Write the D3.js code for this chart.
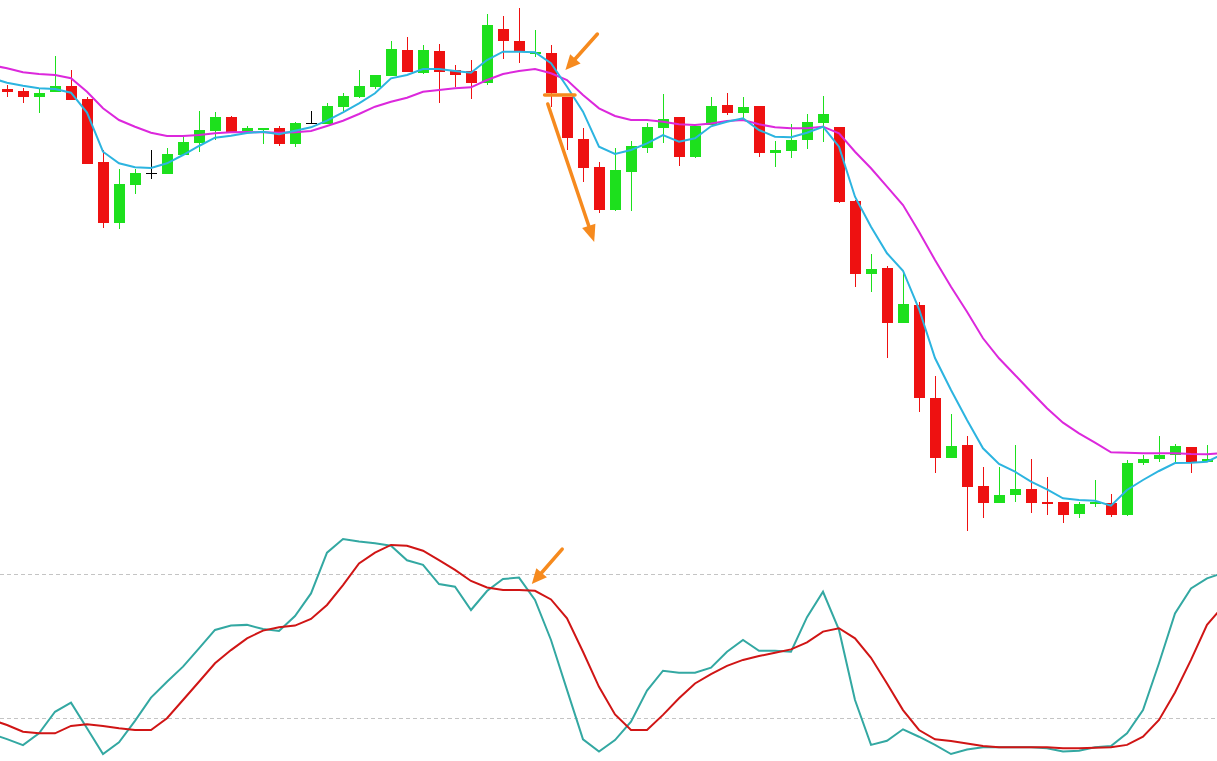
<!DOCTYPE html>
<html>
<head>
<meta charset="utf-8">
<script src="https://cdn.jsdelivr.net/npm/d3@7"></script>
<style>
  html, body { margin: 0; padding: 0; background: #ffffff; }
  svg { display: block; }
</style>
</head>
<body>
<svg id="chart" width="1217" height="761"></svg>
<script>
// ---------- DATA ----------
// bar index 0..75
const opens  = [451,449,443,448,454,441,378,317,355,367,366,385,397,409,423,409,410,412,396,417,416,433,443,453,464,490,467,489,470,469,457,511,499,486,487,443,401,373,330,368,392,412,423,383,415,435,427,434,387,389,400,417,413,339,266,272,217,235,142,82,95,54,37,45,51,38,38,26,36,37,25,77,81,85,93,78];
const highs  = [455,452,452,484,470,443,390,371,371,390,392,403,429,428,424,414,412,414,418,429,437,447,470,465,499,503,495,496,475,480,526,524,532,510,495,443,412,378,392,399,417,446,423,414,443,447,443,434,399,416,426,444,413,340,286,274,267,238,164,126,104,73,73,95,81,63,38,38,60,46,80,85,104,96,93,95];
const lows   = [443,437,427,448,440,376,312,311,346,361,366,385,388,400,408,407,396,394,393,416,416,429,442,451,464,468,466,437,453,441,455,481,477,483,433,390,358,327,329,329,387,397,374,382,415,425,422,383,373,382,391,398,337,253,248,182,217,128,67,82,9,22,37,38,27,25,17,22,33,23,24,75,78,78,67,78];
const closes = [448,443,447,454,440,376,317,356,367,367,386,398,410,423,408,412,412,396,417,417,434,444,454,465,491,468,490,468,465,457,515,499,489,488,447,402,372,330,370,394,413,421,383,414,434,427,433,387,390,400,418,426,338,266,271,217,236,142,82,94,53,37,45,51,37,36,25,36,38,25,77,81,85,94,78,81];

// line series index -1..76
const maFast = [462,457.3,454.3,451.7,451,447.3,427.5,388.3,376.7,372.7,372,376.7,385,394,402.3,404.3,407,408.3,405.7,409.3,412.7,419.3,427.7,436.7,446.7,461.7,465,471,471,469,467.3,480,488.3,488.3,487.7,476.7,453.3,428.3,393.3,386,390,396.7,405,398.3,401.7,413.7,418.3,421.7,410,403.3,402.7,407.3,413.3,393.3,343.3,313.3,286.7,269.3,231,182,150,120,91.7,76,68.3,58.3,50.7,41.7,40,39.3,34.3,50,60,69,77,77.3,78.3,86];
const maSlow = [475,471.7,467.7,466,465,461.7,448.3,431.7,420,413.3,407.3,404,404,405,406.7,407.7,408,407.7,407.3,407.7,409,414,419.3,426,433.3,438.3,442.3,448.3,450,451.7,452.7,460,466,469,471,466.7,460,445,431.7,424,420,420,418.3,415.7,415,416.5,419,420,415.7,412.7,411.7,411.7,413.3,406.7,388.3,371.7,353.3,335,308.3,280,253.3,228.3,201.7,181.7,165,148.3,131.7,117.3,106.7,97.3,87.7,87.3,86.7,86.7,86.7,86,85.7,87];
const stochK = [13.5,11.2,8.7,13.6,22.6,26.4,15.7,5.0,9.9,18.8,28.5,35.1,41.4,49,56.7,58.5,58.8,57.1,56.3,62.5,71.9,88.9,94.6,93.5,92.8,91.8,85.7,83.8,75.8,74.7,65,72.9,77.9,78.5,69.2,52.5,31.7,11.1,6,10.8,18.5,31.4,39.7,38.9,38.9,41,47.6,52.5,48,48,47.6,62,72.6,56.7,27.5,8.8,10.5,15.3,12.2,8.8,5,6.9,7.8,7.8,7.8,7.8,7.4,6,6.4,7.8,8.3,13.6,23.3,42.8,63.6,74,78.2,80.4];
const stochD = [19.3,17.1,14.3,13.6,13.6,16.7,17.4,16.7,15.7,15,15,19.9,27.5,35.1,42.8,48.3,53.2,56.4,57.8,58.5,61.3,67.1,75.4,84.4,88.9,92.1,91.8,89.7,85.8,81.7,77.1,74.4,73.3,73.3,73,69.4,61.5,47.6,33,21.5,15,15,21.3,28.2,34.4,38.3,41.7,44.2,45.8,47.2,48.6,51.5,56,57.4,53.2,45.1,34.4,23.3,15,11.1,10.4,9.4,8.3,7.8,7.8,7.8,7.8,7.4,7.4,7.6,7.8,8.8,12.2,19.2,30.6,44.2,58.8,66.5];
const stochLevels = [80, 20];

// ---------- SCALES ----------
const W = 1217, H = 761;
const x = d3.scaleLinear().domain([0, 75]).range([7, 1207]);
const yP = d3.scaleLinear().domain([0, 540]).range([540, 0]);
const yS = d3.scaleLinear().domain([0, 100]).range([766, 526]);

const svg = d3.select('#chart');
svg.append('rect').attr('width', W).attr('height', H).attr('fill', '#ffffff');

const GREEN = '#1de01d', RED = '#ee1111';
const bodyW = 11;

// ---------- CANDLES ----------
const candles = opens.map((o, i) => ({ i, o, h: highs[i], l: lows[i], c: closes[i] }));
const colorOf = d => d.c > d.o ? GREEN : (d.c < d.o ? RED : '#000000');

const cg = svg.append('g');
cg.selectAll('line.wick').data(candles).join('line')
  .attr('x1', d => Math.round(x(d.i)) + 0.5).attr('x2', d => Math.round(x(d.i)) + 0.5)
  .attr('y1', d => yP(d.h)).attr('y2', d => yP(d.l))
  .attr('stroke', colorOf).attr('stroke-width', 1);
cg.selectAll('rect.body').data(candles).join('rect')
  .attr('x', d => Math.round(x(d.i)) + 0.5 - bodyW / 2)
  .attr('width', bodyW)
  .attr('y', d => yP(Math.max(d.o, d.c)))
  .attr('height', d => Math.max(1, Math.abs(yP(d.o) - yP(d.c))))
  .attr('fill', colorOf);

// ---------- MOVING AVERAGES ----------
const lineIdx = d3.range(-1, 77);
const priceLine = d3.line().x((d, k) => x(lineIdx[k])).y(d => yP(d));
svg.append('path').attr('d', priceLine(maSlow)).attr('fill', 'none')
  .attr('stroke', '#dc28dc').attr('stroke-width', 2);
svg.append('path').attr('d', priceLine(maFast)).attr('fill', 'none')
  .attr('stroke', '#2cb4e0').attr('stroke-width', 2);

// ---------- STOCHASTIC ----------
svg.selectAll('line.level').data(stochLevels).join('line')
  .attr('x1', 0).attr('x2', W)
  .attr('y1', d => Math.round(yS(d)) + 0.5).attr('y2', d => Math.round(yS(d)) + 0.5)
  .attr('stroke', '#c4c4c4').attr('stroke-width', 1).attr('stroke-dasharray', '4,3');
const oscLine = d3.line().x((d, k) => x(lineIdx[k])).y(d => yS(d));
svg.append('path').attr('d', oscLine(stochK)).attr('fill', 'none')
  .attr('stroke', '#33a8a2').attr('stroke-width', 2);
svg.append('path').attr('d', oscLine(stochD)).attr('fill', 'none')
  .attr('stroke', '#d01515').attr('stroke-width', 2);

// ---------- ANNOTATIONS ----------
const ORANGE = '#f68a1e';
function arrow(x1, y1, x2, y2, headLen, headHalf) {
  const dx = x2 - x1, dy = y2 - y1, len = Math.hypot(dx, dy);
  const ux = dx / len, uy = dy / len;
  const bx = x2 - ux * headLen, by = y2 - uy * headLen;
  svg.append('line').attr('x1', x1).attr('y1', y1).attr('x2', bx + ux * 2).attr('y2', by + uy * 2)
    .attr('stroke', ORANGE).attr('stroke-width', 3.5).attr('stroke-linecap', 'round');
  svg.append('polygon')
    .attr('points', [[x2, y2], [bx - uy * headHalf, by + ux * headHalf], [bx + uy * headHalf, by - ux * headHalf]].map(p => p.join(',')).join(' '))
    .attr('fill', ORANGE);
}
// arrow pointing at the MA cross
arrow(x(36.9), yP(506), x(34.9), yP(470), 15, 7);
// horizontal mark at the signal candle close
svg.append('line').attr('x1', x(33.6)).attr('x2', x(35.5)).attr('y1', yP(445)).attr('y2', yP(445))
  .attr('stroke', ORANGE).attr('stroke-width', 3.5).attr('stroke-linecap', 'round');
// long down arrow
arrow(x(33.8), yP(436), x(36.7), yP(298), 17, 7);
// arrow at stochastic cross
arrow(x(34.7), yS(90.4), x(32.8), yS(75.8), 15, 7);
</script>
</body>
</html>
